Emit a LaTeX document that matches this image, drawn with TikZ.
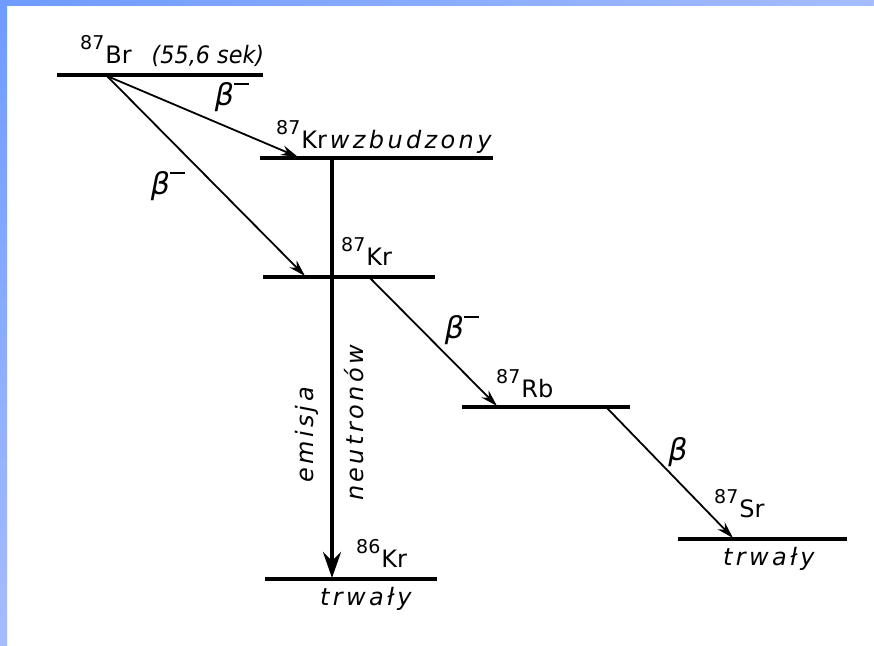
\documentclass[tikz,border=0pt]{standalone}
\usepackage{fontspec}
\setmainfont{DejaVu Sans}
\newfontfamily\wordfont{DejaVu Sans}[LetterSpace=14]
\usetikzlibrary{arrows.meta}
\definecolor{bandA}{RGB}{110,155,255}
\definecolor{bandB}{RGB}{165,188,255}
\newcommand\iso[2]{\raisebox{14pt}{\fontsize{19}{19}\selectfont #1}\kern1pt #2}
\newcommand\betaminus{{\fontsize{30}{32}\selectfont\itshape β}\raisebox{20pt}{\rule{15pt}{2.2pt}}}
\newcommand\betaplain{{\fontsize{30}{32}\selectfont\itshape β}}
\begin{document}
\begin{tikzpicture}[x=1pt,y=-1pt,
  levelline/.style={line width=3.6pt},
  decay/.style={line width=1.8pt,-{Stealth[length=17pt,width=10pt]}},
  emission/.style={line width=4.8pt,-{Stealth[length=26pt,width=18pt,inset=9pt]}},
  lbl/.style={font=\fontsize{24}{26}\selectfont, inner sep=0pt, anchor=base west},
  blbl/.style={inner sep=0pt, anchor=center},
  rlbl/.style={font=\fontsize{24}{26}\selectfont\wordfont\itshape, inner sep=0pt, rotate=90, anchor=center}]
\useasboundingbox (0,0) rectangle (874,645);
\fill[white] (0,0) rectangle (874,645);
\shade[left color=bandA,right color=bandB] (0,0) rectangle (874,5);
\shade[top color=bandA,bottom color=bandB] (0,0) rectangle (7,645);

% energy levels
\draw[levelline] (57,75) -- (263,75);
\draw[levelline] (260,158) -- (493,158);
\draw[levelline] (263,277) -- (435,277);
\draw[levelline] (462,407) -- (630,407);
\draw[levelline] (678,539) -- (847,539);
\draw[levelline] (265,579) -- (437,579);

% connector end points on the levels
\coordinate (brs) at (107,76);
\coordinate (krxe) at (298,157);
\coordinate (krxs) at (332,158);
\coordinate (kre) at (305,276);
\coordinate (krs) at (370,278);
\coordinate (rbe) at (497,406);
\coordinate (rbs) at (607,408);
\coordinate (sre) at (733,538);
\coordinate (kr86) at (332,578);

% transitions
\draw[decay] (brs) -- (krxe);
\draw[decay] (brs) -- (kre);
\draw[decay] (krs) -- (rbe);
\draw[decay] (rbs) -- (sre);
\draw[emission] (krxs) -- (kr86);

% labels
\node[lbl] (lbr) at (80,63) {\iso{87}{Br}\hspace{20pt}{\itshape\scalebox{0.93}[1]{(55,6 sek)}}};
\node[lbl] (lkrx) at (276,148) {\iso{87}{Kr}\hspace{3pt}{\wordfont\itshape wzbudzony}};
\node[lbl] (lkr) at (341,265) {\iso{87}{Kr}};
\node[lbl] (lrb) at (496,397) {\iso{87}{Rb}};
\node[lbl] (lkr86) at (356,567) {\iso{86}{Kr}};
\node[lbl] (lsr) at (714,517) {\iso{87}{Sr}};
\node[lbl] (ltr1) at (320,605) {\wordfont\itshape trwały};
\node[lbl] (ltr2) at (723,565) {\wordfont\itshape trwały};

\node[blbl] (b1) at (232,97) {\betaminus};
\node[blbl] (b2) at (168,186) {\betaminus};
\node[blbl] (b3) at (462,330) {\betaminus};
\node[blbl] (b4) at (678,452) {\betaplain};

\node[rlbl] (em) at (307,435) {emisja};
\node[rlbl] (ne) at (354,423) {neutronów};
\end{tikzpicture}
\end{document}
